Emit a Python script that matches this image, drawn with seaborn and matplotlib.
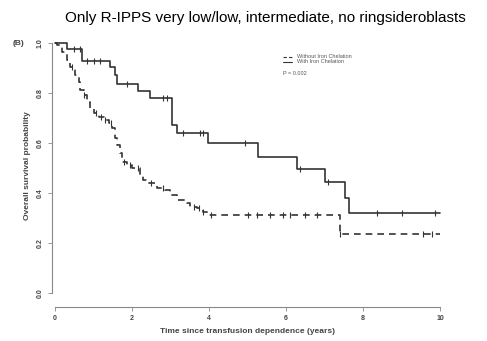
import numpy as np
import pandas as pd
import matplotlib
matplotlib.use("Agg")
import matplotlib.pyplot as plt
import seaborn as sns

# Kaplan-Meier step points (time in years, survival)
t_without = [0, 0.04, 0.17, 0.30, 0.39, 0.52, 0.61, 0.65, 0.74, 0.82, 0.91, 1.00, 1.13,
             1.26, 1.39, 1.47, 1.56, 1.60, 1.69, 1.73, 1.86, 1.99, 2.21, 2.29, 2.42,
             2.64, 2.86, 2.99, 3.16, 3.42, 3.51, 3.68, 3.85, 3.98, 7.40, 10.0]
s_without = [1.0, 0.99, 0.965, 0.932, 0.905, 0.872, 0.845, 0.812, 0.792, 0.765, 0.739,
             0.719, 0.705, 0.692, 0.679, 0.659, 0.619, 0.592, 0.559, 0.525, 0.512, 0.499,
             0.472, 0.452, 0.439, 0.421, 0.412, 0.392, 0.372, 0.359, 0.345, 0.339, 0.325,
             0.312, 0.235, 0.235]
cens_without = [0.45, 0.75, 1.05, 1.2, 1.3, 1.45, 1.8, 1.95, 2.15, 2.5, 2.8, 3.6, 3.75,
                3.85, 4.05, 5.0, 5.24, 5.58, 5.92, 6.1, 6.49, 6.8, 7.4, 9.56, 9.78]

t_with = [0, 0.30, 0.69, 1.43, 1.55, 1.62, 2.16, 2.47, 3.03, 3.16, 3.98, 5.28, 6.28,
          7.01, 7.53, 7.64, 10.0]
s_with = [1.0, 0.975, 0.928, 0.905, 0.87, 0.835, 0.808, 0.78, 0.672, 0.639, 0.599,
          0.545, 0.496, 0.445, 0.38, 0.319, 0.319]
cens_with = [0.48, 0.65, 0.82, 1.0, 1.17, 1.86, 2.81, 2.9, 3.33, 3.77, 3.85, 4.93,
             6.35, 7.1, 8.35, 9.0, 9.87]

groups = ["Without Iron Chelation", "With Iron Chelation"]
p_text = "P = 0.002"

sns.set_theme(style="white")
plt.rcParams["font.family"] = ["Liberation Sans", "DejaVu Sans"]

curve = pd.concat([
    pd.DataFrame({"time": t_without, "surv": s_without, "group": groups[0]}),
    pd.DataFrame({"time": t_with, "surv": s_with, "group": groups[1]}),
])


def step_value(t, times, surv):
    idx = np.searchsorted(times, t, side="right") - 1
    return surv[idx]


cens = pd.concat([
    pd.DataFrame({"time": cens_without,
                  "surv": [step_value(c, t_without, s_without) for c in cens_without],
                  "group": groups[0]}),
    pd.DataFrame({"time": cens_with,
                  "surv": [step_value(c, t_with, s_with) for c in cens_with],
                  "group": groups[1]}),
])

fig = plt.figure(figsize=(4.87, 3.41), dpi=100)
ax = fig.add_axes([0.1068, 0.1408, 0.8047, 0.7478])

col = "#333333"
sns.lineplot(data=curve, x="time", y="surv", style="group", style_order=groups,
             dashes={groups[0]: (4, 3), groups[1]: ""}, color=col, linewidth=1.2,
             drawstyle="steps-post", estimator=None, ax=ax, legend=False)
sns.scatterplot(data=cens, x="time", y="surv", marker="|", s=18, color=col,
                linewidth=0.8, ax=ax, legend=False)

ax.set_xlim(-0.08, 10.1)
ax.set_ylim(0, 1.02)
ax.spines["top"].set_visible(False)
ax.spines["right"].set_visible(False)
ax.spines["bottom"].set_position(("outward", 10))
ax.spines["bottom"].set_bounds(0, 10)
ax.spines["left"].set_bounds(0, 1)
for s in ["left", "bottom"]:
    ax.spines[s].set_color("#888888")
    ax.spines[s].set_linewidth(0.8)

ax.set_xticks([0, 2, 4, 6, 8, 10])
ax.set_yticks([0.0, 0.2, 0.4, 0.6, 0.8, 1.0])
ax.set_yticklabels(["0.0", "0.2", "0.4", "0.6", "0.8", "1.0"], rotation=90, va="center")
ax.tick_params(axis="both", length=3, width=0.6, color="#888888", labelsize=5,
               labelcolor="#444444", pad=3, direction="out")
ax.tick_params(left=True, bottom=True)
for lab in ax.get_xticklabels() + ax.get_yticklabels():
    lab.set_fontweight("bold")

ax.set_xlabel("Time since transfusion dependence (years)", fontsize=6,
              fontweight="bold", color="#444444", labelpad=4)
ax.set_ylabel("Overall survival probability", fontsize=6, fontweight="bold",
              color="#444444", labelpad=4)

# legend drawn by hand, R style
ax.plot([5.92, 6.16], [0.944, 0.944], color=col, lw=0.8, dashes=(3, 2))
ax.plot([5.92, 6.16], [0.924, 0.924], color=col, lw=0.8)
ax.text(6.29, 0.944, groups[0], fontsize=4.0, va="center", color="#555555")
ax.text(6.29, 0.924, groups[1], fontsize=4.0, va="center", color="#555555")
ax.text(5.92, 0.876, p_text, fontsize=4.0, va="center", color="#555555")

fig.text(0.544, 0.947, "Only R-IPPS very low/low, intermediate, no ringsideroblasts",
         ha="center", va="center", fontsize=11, color="black")
fig.text(0.025, 0.872, "(B)", fontsize=6, fontweight="bold", color="#444444", va="center")

fig.savefig("out.png", dpi=100, facecolor="white")
